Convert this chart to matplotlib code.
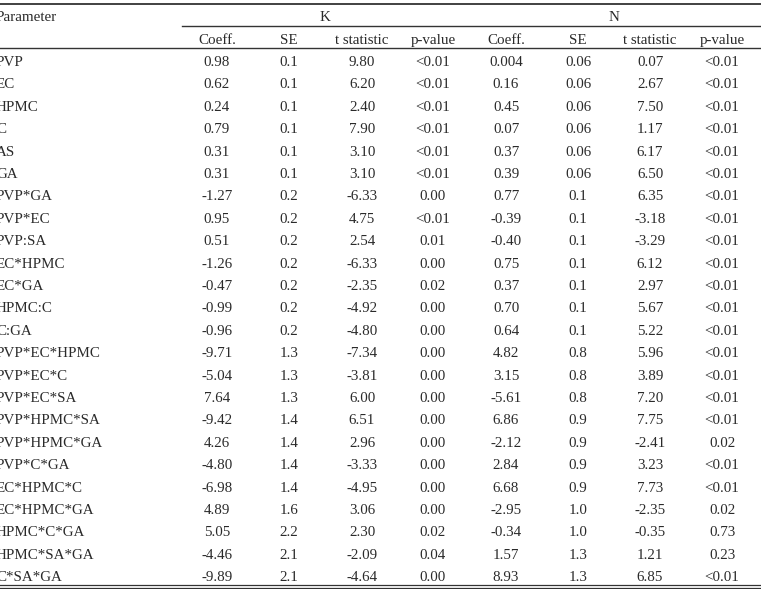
import matplotlib.pyplot as plt

params = ["PVP", "EC", "HPMC", "C", "AS", "GA", "PVP*GA", "PVP*EC", "PVP:SA",
          "EC*HPMC", "EC*GA", "HPMC:C", "C:GA", "PVP*EC*HPMC", "PVP*EC*C",
          "PVP*EC*SA", "PVP*HPMC*SA", "PVP*HPMC*GA", "PVP*C*GA", "EC*HPMC*C",
          "EC*HPMC*GA", "HPMC*C*GA", "HPMC*SA*GA", "C*SA*GA"]

k_coef = ["0.98", "0.62", "0.24", "0.79", "0.31", "0.31", "-1.27", "0.95", "0.51",
          "-1.26", "-0.47", "-0.99", "-0.96", "-9.71", "-5.04", "7.64", "-9.42",
          "4.26", "-4.80", "-6.98", "4.89", "5.05", "-4.46", "-9.89"]
k_se = ["0.1"] * 6 + ["0.2"] * 7 + ["1.3"] * 3 + ["1.4"] * 4 + ["1.6", "2.2", "2.1", "2.1"]
k_t = ["9.80", "6.20", "2.40", "7.90", "3.10", "3.10", "-6.33", "4.75", "2.54",
       "-6.33", "-2.35", "-4.92", "-4.80", "-7.34", "-3.81", "6.00", "6.51",
       "2.96", "-3.33", "-4.95", "3.06", "2.30", "-2.09", "-4.64"]
k_p = ["<0.01"] * 6 + ["0.00", "<0.01", "0.01", "0.00", "0.02", "0.00", "0.00",
       "0.00", "0.00", "0.00", "0.00", "0.00", "0.00", "0.00", "0.00", "0.02",
       "0.04", "0.00"]

n_coef = ["0.004", "0.16", "0.45", "0.07", "0.37", "0.39", "0.77", "-0.39", "-0.40",
          "0.75", "0.37", "0.70", "0.64", "4.82", "3.15", "-5.61", "6.86", "-2.12",
          "2.84", "6.68", "-2.95", "-0.34", "1.57", "8.93"]
n_se = ["0.06"] * 6 + ["0.1"] * 7 + ["0.8"] * 3 + ["0.9"] * 4 + ["1.0", "1.0", "1.3", "1.3"]
n_t = ["0.07", "2.67", "7.50", "1.17", "6.17", "6.50", "6.35", "-3.18", "-3.29",
       "6.12", "2.97", "5.67", "5.22", "5.96", "3.89", "7.20", "7.75", "-2.41",
       "3.23", "7.73", "-2.35", "-0.35", "1.21", "6.85"]
n_p = ["<0.01"] * 17 + ["0.02", "<0.01", "<0.01", "0.02", "0.73", "0.23", "<0.01"]

sub_headers = ["Coeff.", "SE", "t statistic", "p-value"] * 2
groups = ["K", "N"]

W, H = 761, 589
plt.rcParams["font.family"] = ["Liberation Serif", "DejaVu Serif"]
fig = plt.figure(figsize=(W / 100, H / 100), dpi=100)
ax = fig.add_axes([0, 0, 1, 1])
ax.set_xlim(0, W)
ax.set_ylim(H, 0)
ax.axis("off")

fs = 10.8
col_x = [217, 289, 362, 433, 506, 578, 650, 722]
row_y0, row_dy = 61, 22.4
color = "#2a2a2a"
left = -4
base = 5  # baseline offset from row centre, px


def put(x, y, s, ha="center"):
    ax.text(x, y + base, s, fontsize=fs, color=color, ha=ha, va="baseline")


# header
put(left, 16, "Parameter", ha="left")
put((col_x[0] + col_x[3]) / 2, 16, groups[0])
put((col_x[4] + col_x[7]) / 2, 16, groups[1])
for x, s in zip(col_x, sub_headers):
    put(x, 39, s)

# rules
ax.plot([0, W], [4, 4], color="#333333", lw=1.3)
ax.plot([182, W], [26, 26], color="#333333", lw=1.0)
ax.plot([0, W], [48, 48], color="#333333", lw=1.0)
ax.plot([0, W], [584.5, 584.5], color="#333333", lw=0.9)
ax.plot([0, W], [587.5, 587.5], color="#333333", lw=0.9)

# body
cols = [k_coef, k_se, k_t, k_p, n_coef, n_se, n_t, n_p]
for i, name in enumerate(params):
    y = row_y0 + i * row_dy
    put(left, y, name, ha="left")
    for x, col in zip(col_x, cols):
        put(x, y, col[i])

fig.savefig("out.png", dpi=100)
